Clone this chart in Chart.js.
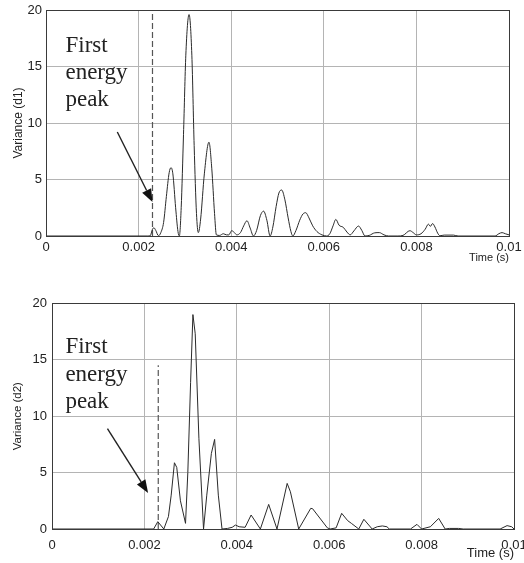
<!DOCTYPE html>
<html><head><meta charset="utf-8">
<script src="https://cdn.jsdelivr.net/npm/chart.js@4/dist/chart.umd.min.js"></script>
<style>
html,body{margin:0;padding:0;background:#fff;width:524px;height:563px;overflow:hidden}
.box{position:absolute;left:0;width:524px}
</style></head><body>
<div class="box" style="top:0;height:265px"><canvas id="c1"></canvas></div>
<div class="box" style="top:290px;height:271px"><canvas id="c2"></canvas></div>
<script>
// ---- data (time in seconds, variance) ----
const timeD1 = [0,0.0022,0.00225,0.0023,0.00233,0.00237,0.00243,0.00248,0.00254,0.0026,0.00266,0.0027,0.00274,0.0028,0.00285,0.00288,0.00292,0.00297,0.00302,0.00309,0.00315,0.0032,0.00325,0.00329,0.00334,0.00342,0.00352,0.00358,0.00364,0.00368,0.00375,0.00383,0.0039,0.00395,0.00401,0.00407,0.00412,0.0042,0.00427,0.00434,0.00441,0.00448,0.00455,0.00463,0.0047,0.00477,0.00484,0.0049,0.00497,0.00503,0.00509,0.00516,0.00523,0.00529,0.00533,0.0054,0.00548,0.00555,0.00561,0.00568,0.00576,0.00585,0.00596,0.00606,0.00613,0.0062,0.00626,0.00633,0.00642,0.0065,0.00657,0.00665,0.00675,0.00682,0.00689,0.00698,0.0071,0.0072,0.0073,0.0074,0.0076,0.00771,0.00786,0.00793,0.008,0.0081,0.00819,0.00826,0.0083,0.00835,0.0084,0.00846,0.00851,0.0086,0.0088,0.0089,0.0097,0.00978,0.00985,0.00992,0.01];
const varD1 = [0,0,0.02,0.6,0.73,0.5,0.02,0.3,1.2,3.5,5.6,6.05,5.5,2.5,0.4,0,2.5,9,16,19.6,16,8,2,0.3,1.5,5.5,8.3,6,2,0.1,0.05,0.2,0.1,0.1,0.47,0.3,0.1,0.3,0.9,1.35,0.7,0,0.5,1.8,2.2,1.4,0,0.8,2.6,3.8,4.07,3.2,1.6,0.4,0,0.5,1.4,1.95,2.06,1.6,0.9,0.4,0.1,0,0.2,0.9,1.47,0.95,0.77,0.35,0.1,0.45,0.88,0.5,0,0.05,0.28,0.3,0.1,0,0,0.05,0.47,0.3,0.1,0.2,0.6,1.05,0.85,1.1,0.8,0.25,0.02,0.08,0.08,0,0,0.2,0.3,0.2,0.1];
const timeD2 = [0,0.0022,0.00229,0.00242,0.00252,0.00258,0.00265,0.0027,0.00278,0.00289,0.00294,0.003,0.00305,0.0031,0.00318,0.00328,0.00335,0.00345,0.00352,0.0036,0.00368,0.0038,0.0039,0.00397,0.00405,0.00418,0.00431,0.00451,0.00469,0.00487,0.00509,0.00516,0.00534,0.0056,0.00564,0.00596,0.00602,0.00615,0.00627,0.0064,0.00648,0.00664,0.00675,0.00693,0.00704,0.00715,0.00725,0.0073,0.00776,0.0079,0.008,0.00819,0.00837,0.00851,0.0086,0.0088,0.0089,0.0097,0.00985,0.00995,0.01];
const varD2 = [0,0,0.65,0,1.1,3,5.87,5.46,2.5,0.5,5,13,19.0,17.3,8,0,3,6.7,7.94,3,0,0.05,0.15,0.35,0.2,0.15,1.24,0,2.18,0,4.04,3.3,0,1.83,1.8,0.1,0,0.1,1.39,0.74,0.5,0,0.86,0,0.2,0.27,0.2,0,0,0.41,0,0.2,0.94,0,0.05,0.05,0,0,0.3,0.2,0];
const xTickLabels = ['0','0.002','0.004','0.006','0.008','0.01'];
const yTickLabels = ['0','5','10','15','20'];
const firstPeakTime = 0.0023;
const dashTopD1 = 20, dashTopD2 = 14.5;
const noteLines = ['First','energy','peak'];
const xTitle = 'Time (s)';
const yTitles = ['Variance (d1)','Variance (d2)'];

function toPts(xs, ys){ return xs.map((x,i)=>({x, y: ys[i]})); }

function annotPlugin(cfg){
  return {
    id: 'annot',
    afterDatasetsDraw(chart){
      const {ctx, chartArea:a, scales:{x, y}} = chart;
      ctx.save();
      // plot box
      ctx.strokeStyle = '#3a3a3a'; ctx.lineWidth = 1;
      ctx.strokeRect(Math.round(a.left)+0.5, Math.round(a.top)+0.5, Math.round(a.right)-Math.round(a.left), Math.round(a.bottom)-Math.round(a.top));
      // text
      ctx.fillStyle = '#222'; ctx.font = '23px "Liberation Serif", "Times New Roman", serif';
      ctx.textAlign = 'left'; ctx.textBaseline = 'alphabetic';
      noteLines.forEach((s,i)=>ctx.fillText(s, x.getPixelForValue(cfg.textX), y.getPixelForValue(cfg.textY[i])));
      // arrow
      const x0 = x.getPixelForValue(cfg.arrow[0]), y0 = y.getPixelForValue(cfg.arrow[1]);
      const x1 = x.getPixelForValue(cfg.arrow[2]), y1 = y.getPixelForValue(cfg.arrow[3]);
      const ang = Math.atan2(y1-y0, x1-x0), L = 13, W = 5;
      const bx = x1 - L*Math.cos(ang), by = y1 - L*Math.sin(ang);
      ctx.strokeStyle = '#222'; ctx.lineWidth = 1.4;
      ctx.beginPath(); ctx.moveTo(x0,y0); ctx.lineTo(bx,by); ctx.stroke();
      ctx.fillStyle = '#111';
      ctx.beginPath(); ctx.moveTo(x1,y1);
      ctx.lineTo(bx + W*Math.sin(ang), by - W*Math.cos(ang));
      ctx.lineTo(bx - W*Math.sin(ang), by + W*Math.cos(ang));
      ctx.closePath(); ctx.fill();
      ctx.restore();
    }
  };
}

function makeChart(id, pts, dashTop, yTitle, o){
  return new Chart(document.getElementById(id), {
    type: 'line',
    data: { datasets: [
      { data: pts, borderColor: '#2a2a2a', borderWidth: 1, pointRadius: 0,
        cubicInterpolationMode: o.smooth ? 'monotone' : 'default', tension: 0 },
      { data: [{x:firstPeakTime,y:0},{x:firstPeakTime,y:dashTop}], borderColor: '#555',
        borderWidth: 1.2, borderDash: [6,3], pointRadius: 0 }
    ]},
    options: {
      responsive: true, maintainAspectRatio: false, animation: false,
      layout: { padding: { top: o.padTop, right: o.padRight, left: 0, bottom: 0 } },
      plugins: { legend: { display: false }, tooltip: { enabled: false } },
      scales: {
        x: { type: 'linear', min: 0, max: 0.01,
          ticks: { stepSize: 0.002, color: '#222', padding: o.xPad, maxRotation: 0,
            font: { family: '"Liberation Sans", Arial, sans-serif', size: 13 },
            callback: (v,i)=>xTickLabels[i] },
          grid: { color: '#b4b4b4', lineWidth: 1, drawTicks: false },
          border: { display: true, color: '#3a3a3a' },
          title: { display: true, text: xTitle, align: 'end', color: '#222',
            font: { family: '"Liberation Sans", Arial, sans-serif', size: o.xTitleSize }, padding: 0 },
          afterFit(s){ s.height = o.xH; s.paddingLeft = 0; s.paddingRight = 0; }
        },
        y: { min: 0, max: 20,
          ticks: { stepSize: 5, color: '#222', padding: o.yPad,
            font: { family: '"Liberation Sans", Arial, sans-serif', size: 13 },
            callback: (v,i)=>yTickLabels[i] },
          grid: { color: '#b4b4b4', lineWidth: 1, drawTicks: false },
          border: { display: true, color: '#3a3a3a' },
          title: { display: true, text: yTitle, color: '#222',
            font: { family: '"Liberation Sans", Arial, sans-serif', size: o.yTitleSize }, padding: { top: o.yTitlePad, bottom: 0 } },
          afterFit(s){ s.width = o.yW; s.paddingTop = 0; s.paddingBottom = 0; }
        }
      }
    },
    plugins: [annotPlugin(o.annot)]
  });
}

makeChart('c1', toPts(timeD1, varD1), dashTopD1, yTitles[0], {
  smooth: true, padTop: 10, padRight: 15, xH: 29, yW: 46, xPad: 4, yPad: 4,
  xTitleSize: 11, yTitleSize: 12, yTitlePad: 11,
  annot: { textX: 0.00042, textY: [16.3, 13.9, 11.5], arrow: [0.00154, 9.2, 0.0023, 3.0] }
});
makeChart('c2', toPts(timeD2, varD2), dashTopD2, yTitles[1], {
  smooth: false, padTop: 13.3, padRight: 10, xH: 32, yW: 52, xPad: 9, yPad: 5,
  xTitleSize: 13, yTitleSize: 11.5, yTitlePad: 11,
  annot: { textX: 0.00029, textY: [15.6, 13.1, 10.7], arrow: [0.0012, 8.9, 0.00208, 3.2] }
});
</script>
</body></html>
